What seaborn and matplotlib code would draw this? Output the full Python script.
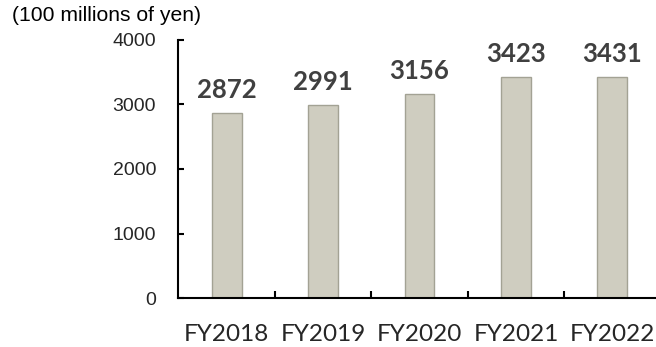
import matplotlib
matplotlib.use("Agg")
import matplotlib.pyplot as plt
import seaborn as sns
import pandas as pd
from matplotlib.ticker import FixedLocator

years = ["FY2018", "FY2019", "FY2020", "FY2021", "FY2022"]
sales = [2872, 2991, 3156, 3423, 3431]
y_ticks = [0, 1000, 2000, 3000, 4000]

df = pd.DataFrame({"year": years, "sales": sales})

sns.set_style("white")
plt.rcParams["font.family"] = ["Liberation Sans", "DejaVu Sans"]

fig = plt.figure(figsize=(6.56, 3.47), dpi=100)
ax = fig.add_axes([0.272, 0.141, 0.735, 0.744])

sns.barplot(data=df, x="year", y="sales", color="#CFCDC0", width=0.31,
            edgecolor="#A3A294", linewidth=1.0, saturation=1, ax=ax)

ax.set_xlim(-0.5, len(years) - 0.5)
ax.set_ylim(0, 4000)
ax.set_yticks(y_ticks)
ax.set_xlabel("")
ax.set_ylabel("")

for s in ["top", "right"]:
    ax.spines[s].set_visible(False)
for s in ["left", "bottom"]:
    ax.spines[s].set_color("black")
    ax.spines[s].set_linewidth(1.5)

ax.tick_params(axis="y", direction="in", length=4, width=1.5, color="black",
               labelsize=14, pad=16, left=True)
ax.tick_params(axis="x", which="major", length=0, pad=19)
for lab in ax.get_xticklabels():
    lab.set_fontfamily(["Lato", "DejaVu Sans"])
    lab.set_fontsize(17.5)
ax.xaxis.set_minor_locator(FixedLocator([i + 0.5 for i in range(len(years) - 1)]))
ax.tick_params(axis="x", which="minor", direction="in", length=5, width=1.5,
               color="black", bottom=True)

for i, v in enumerate(sales):
    ax.annotate(f"{v}", (i, v), xytext=(0, 8), textcoords="offset points",
                ha="center", va="bottom", fontsize=18.5, fontweight="bold",
                color="#404040", family=["Lato", "DejaVu Sans"])

fig.text(12 / 656, 1 - 6 / 347, "(100 millions of yen)", ha="left", va="top",
         fontsize=15.2, color="black")

fig.savefig("out.png", dpi=100)
